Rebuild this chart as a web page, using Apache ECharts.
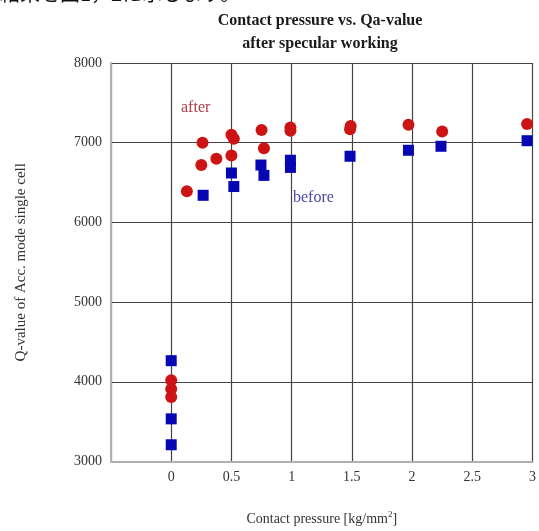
<!DOCTYPE html>
<html>
<head>
<meta charset="utf-8">
<script src="https://cdn.jsdelivr.net/npm/echarts@6/dist/echarts.min.js"></script>
<style>
html,body{margin:0;padding:0;background:#fff;}
#chart{width:539px;height:531px;}
</style>
</head>
<body>
<div id="chart"></div>
<script>
// Data
const afterX = [0, 0, 0, 0.13, 0.25, 0.26, 0.375, 0.5, 0.5, 0.52, 0.75, 0.77, 0.99, 0.99, 1.485, 1.49, 1.97, 2.25, 2.955];
const afterY = [4020, 3910, 3810, 6390, 6720, 7000, 6800, 6840, 7100, 7050, 7160, 6930, 7150, 7190, 7170, 7210, 7225, 7140, 7235];
const beforeX = [0, 0, 0, 0.265, 0.5, 0.52, 0.745, 0.77, 0.99, 0.99, 1.485, 1.97, 2.24, 2.955];
const beforeY = [4265, 3535, 3210, 6340, 6620, 6450, 6720, 6590, 6780, 6690, 6830, 6905, 6955, 7025];
const xTicks = [0, 0.5, 1, 1.5, 2, 2.5, 3];
const yTicks = [3000, 4000, 5000, 6000, 7000, 8000];

const serif = '"Liberation Serif", "DejaVu Serif", serif';
const pair = (xs, ys) => xs.map((x, i) => [x, ys[i]]);

const chart = echarts.init(document.getElementById('chart'));
chart.setOption({
  animation: false,
  backgroundColor: '#fff',
  title: {
    text: 'Contact pressure vs. Qa-value\nafter specular working',
    left: 315, top: 4, textAlign: 'center',
    textStyle: {fontFamily: serif, fontWeight: 'bold', fontSize: 16, lineHeight: 23, color: '#1a1a1a'}
  },
  grid: {left: 111, right: 6, top: 63, bottom: 68},
  xAxis: {
    type: 'value', min: -0.5, max: 3, interval: 0.5,
    axisLine: {show: true, onZero: false, lineStyle: {color: '#b0b0b0', width: 2}},
    axisTick: {show: false},
    splitLine: {show: true, lineStyle: {color: '#444', width: 1.2}},
    axisLabel: {
      margin: 9, color: '#333', fontFamily: serif, fontSize: 14,
      formatter: v => xTicks.includes(v) ? String(v) : ''
    },
    name: '{a|Contact pressure [kg/mm}{s|2}{a|]}',
    nameLocation: 'middle', nameGap: 49,
    nameTextStyle: {
      rich: {
        a: {fontFamily: serif, fontSize: 14, color: '#333'},
        s: {fontFamily: serif, fontSize: 9, color: '#333', verticalAlign: 'top', padding: [0, 0, 8, 0]}
      }
    }
  },
  yAxis: {
    type: 'value', min: 3000, max: 8000, interval: 1000,
    axisLine: {show: true, onZero: false, lineStyle: {color: '#b0b0b0', width: 2}},
    axisTick: {show: false},
    splitLine: {show: true, lineStyle: {color: '#444', width: 1.2}},
    axisLabel: {
      margin: 9, color: '#333', fontFamily: serif, fontSize: 14,
      formatter: v => yTicks.includes(v) ? String(v) : ''
    },
    name: 'Q-value of Acc. mode single cell',
    nameLocation: 'middle', nameGap: 82,
    nameTextStyle: {fontFamily: serif, fontSize: 15, color: '#333'}
  },
  series: [
    {
      name: 'after', type: 'scatter', symbol: 'circle', symbolSize: 12,
      itemStyle: {color: '#cc1414', opacity: 1},
      data: pair(afterX, afterY)
    },
    {
      name: 'before', type: 'scatter', symbol: 'rect', symbolSize: 11,
      itemStyle: {color: '#0606b4', opacity: 1},
      data: pair(beforeX, beforeY)
    }
  ],
  graphic: [
    {type: 'text', left: 0, top: -17, style: {text: '結果を図1，2に示します。', font: '20px "Noto Sans CJK JP"', fill: '#111'}},
    {type: 'text', left: 181, top: 100, style: {text: 'after', font: '16px ' + serif, fill: '#b03a48'}},
    {type: 'text', left: 293, top: 190, style: {text: 'before', font: '16px ' + serif, fill: '#4848a8'}}
  ]
});
</script>
</body>
</html>
